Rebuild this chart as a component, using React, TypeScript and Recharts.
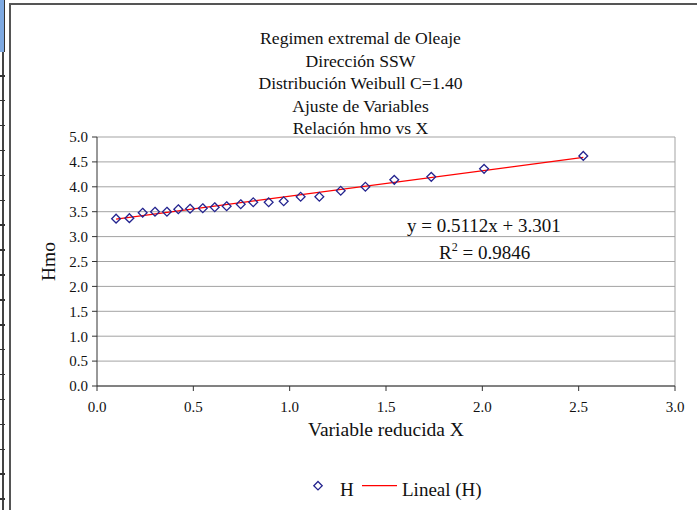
import { ScatterChart, Scatter, XAxis, YAxis, CartesianGrid, ReferenceLine } from "recharts"

// reduced variable X and measured Hmo (m)
const reducedX = [
  0.099, 0.168, 0.237, 0.301, 0.363, 0.422, 0.483, 0.549, 0.611, 0.673, 0.746,
  0.811, 0.891, 0.969, 1.057, 1.154, 1.265, 1.393, 1.543, 1.735, 2.009, 2.524
]
const hmo = [
  3.36, 3.37, 3.48, 3.50, 3.50, 3.55, 3.56, 3.57, 3.59, 3.61, 3.65,
  3.69, 3.69, 3.71, 3.80, 3.80, 3.92, 4.00, 4.14, 4.20, 4.36, 4.62
]

// linear trend "Lineal (H)", ends of the drawn segment
const trendX = [0.099, 2.524]
const trendY = [3.35, 4.59]

const xTicks = [0, 0.5, 1, 1.5, 2, 2.5, 3]
const yTicks = [0, 0.5, 1, 1.5, 2, 2.5, 3, 3.5, 4, 4.5, 5]

const titleLines = [
  "Regimen extremal de Oleaje",
  "Dirección SSW",
  "Distribución Weibull C=1.40",
  "Ajuste de Variables",
  "Relación hmo vs X"
]

const points = reducedX.map((x, i) => ({ x, y: hmo[i] }))
const trend = trendX.map((x, i) => ({ x, y: trendY[i] }))

const FONT = '"Liberation Serif", "Times New Roman", serif'
const NAVY = "#24248f"

const Diamond = (props: any) => {
  const { cx, cy } = props
  const r = 4.4
  return (
    <polygon
      points={`${cx},${cy - r} ${cx + r},${cy} ${cx},${cy + r} ${cx - r},${cy}`}
      fill="none"
      stroke={NAVY}
      strokeWidth={1.3}
    />
  )
}

const fmt = (v: number) => v.toFixed(1)

export default function App() {
  const sheetTicks = Array.from({ length: 18 }, (_, i) => 75 + i * 24.9)

  return (
    <div
      style={{
        position: "absolute",
        left: 0,
        top: 0,
        width: 697,
        height: 510,
        overflow: "hidden",
        background: "#fff",
        fontFamily: FONT
      }}
    >
      {/* spreadsheet edge on the left */}
      <div style={{ position: "absolute", left: 2, top: 0, width: 1.5, height: 510, background: "#444" }} />
      <div style={{ position: "absolute", left: 0, top: 0, width: 4, height: 52, background: "#7ea9e1", borderRight: "1px solid #333" }} />
      {sheetTicks.map((t) => (
        <div key={t} style={{ position: "absolute", left: 0, top: t, width: 5, height: 1.5, background: "#333" }} />
      ))}
      {/* chart frame */}
      <div style={{ position: "absolute", left: 9, top: 3, width: 720, height: 540, borderLeft: "2px solid #555", borderTop: "2px solid #555" }} />

      <div style={{ position: "absolute", left: 0, top: 0 }}>
        <ScatterChart
          width={697}
          height={510}
          margin={{ top: 137, right: 22, bottom: 0, left: 0 }}
        >
          <CartesianGrid horizontal vertical={false} stroke="#a3a3a3" strokeWidth={1} />
          <XAxis
            type="number"
            dataKey="x"
            domain={[0, 3]}
            ticks={xTicks}
            tickFormatter={fmt}
            height={124}
            stroke="#333"
            tickSize={5}
            tickMargin={10}
            tick={{ fill: "#111", fontSize: 15, fontFamily: FONT }}
            label={{ value: "Variable reducida X", position: "insideBottom", offset: 74, fill: "#111", fontSize: 19.5, fontFamily: FONT }}
          />
          <YAxis
            type="number"
            dataKey="y"
            domain={[0, 5]}
            ticks={yTicks}
            tickFormatter={fmt}
            width={97}
            stroke="#333"
            tickSize={5}
            tickMargin={4}
            tick={{ fill: "#111", fontSize: 15, fontFamily: FONT }}
            label={{ value: "Hmo", angle: -90, position: "insideLeft", offset: 48, fill: "#111", fontSize: 19.5, fontFamily: FONT, style: { textAnchor: "middle" } }}
          />
          <ReferenceLine x={3} stroke="#a3a3a3" />
          <Scatter
            data={trend}
            line={{ stroke: "#ff0000", strokeWidth: 1.3 }}
            shape={() => <g />}
            isAnimationActive={false}
          />
          <Scatter data={points} shape={<Diamond />} isAnimationActive={false} />
        </ScatterChart>
      </div>

      <svg
        width={697}
        height={510}
        style={{ position: "absolute", left: 0, top: 0, pointerEvents: "none" }}
        fontFamily={FONT}
        fill="#111"
      >
        {titleLines.map((line, i) => (
          <text key={line} x={360.5} y={44 + i * 22.6} textAnchor="middle" fontSize={17.6}>
            {line}
          </text>
        ))}
        <text x={407} y={232} fontSize={19}>y = 0.5112x + 3.301</text>
        <text x={439} y={258.5} fontSize={19}>
          R<tspan fontSize={12} dy={-8}>2</tspan>
          <tspan dy={8}> = 0.9846</tspan>
        </text>
        {/* legend */}
        <polygon points="318,481.5 322.2,485.7 318,489.9 313.8,485.7" fill="none" stroke={NAVY} strokeWidth={1.3} />
        <text x={340} y={496} fontSize={19}>H</text>
        <line x1={362} y1={485.7} x2={397} y2={485.7} stroke="#ff0000" strokeWidth={1.3} />
        <text x={402} y={496} fontSize={19}>Lineal (H)</text>
      </svg>
    </div>
  )
}
